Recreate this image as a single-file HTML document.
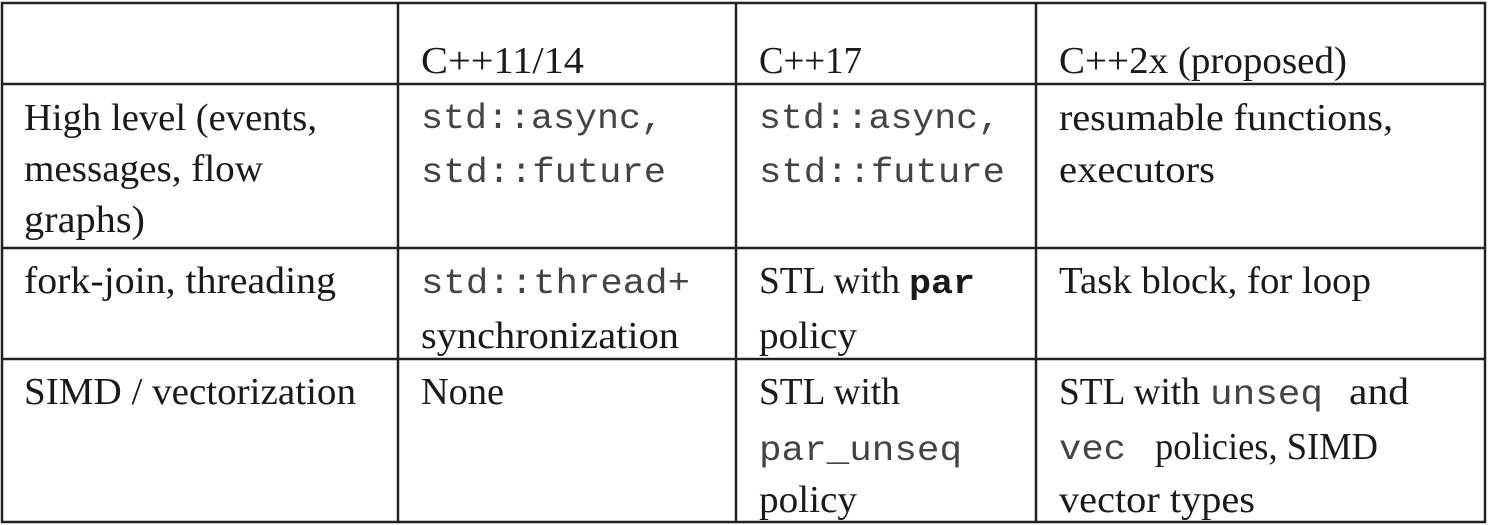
<!DOCTYPE html>
<html><head><style>
html,body{margin:0;padding:0;background:#fff;}
svg{display:block;}
.s{font-family:"Liberation Serif",serif;font-size:38px;fill:#1a1a1a;}
.m{font-family:"Liberation Mono",monospace;font-size:35px;fill:#444;}
.mb{font-family:"Liberation Mono",monospace;font-size:34px;font-weight:bold;fill:#1a1a1a;}
</style></head><body>
<svg width="1488" height="525" viewBox="0 0 1488 525" xmlns="http://www.w3.org/2000/svg">
<g stroke="#222" stroke-width="2.5" fill="none">
<rect x="2" y="3" width="1483" height="519"/>
<line x1="2" y1="84" x2="1485" y2="84"/>
<line x1="2" y1="248" x2="1485" y2="248"/>
<line x1="2" y1="359" x2="1485" y2="359"/>
<line x1="398" y1="3" x2="398" y2="522"/>
<line x1="736" y1="3" x2="736" y2="522"/>
<line x1="1036" y1="3" x2="1036" y2="522"/>
</g>
<g>
<text class="s" x="421" y="73" textLength="163" lengthAdjust="spacingAndGlyphs">C++11/14</text>
<text class="s" x="759" y="73" textLength="103" lengthAdjust="spacingAndGlyphs">C++17</text>
<text class="s" x="1059" y="73" textLength="288" lengthAdjust="spacingAndGlyphs">C++2x (proposed)</text>

<text class="s" x="24" y="130" textLength="293" lengthAdjust="spacingAndGlyphs">High level (events,</text>
<text class="s" x="24" y="181" textLength="239" lengthAdjust="spacingAndGlyphs">messages, flow</text>
<text class="s" x="24" y="232" textLength="121" lengthAdjust="spacingAndGlyphs">graphs)</text>
<text class="m" x="421" y="128" textLength="242" lengthAdjust="spacingAndGlyphs">std::async,</text>
<text class="m" x="421" y="182" textLength="245" lengthAdjust="spacingAndGlyphs">std::future</text>
<text class="m" x="759" y="128" textLength="241" lengthAdjust="spacingAndGlyphs">std::async,</text>
<text class="m" x="759" y="182" textLength="246" lengthAdjust="spacingAndGlyphs">std::future</text>
<text class="s" x="1059" y="130" textLength="334" lengthAdjust="spacingAndGlyphs">resumable functions,</text>
<text class="s" x="1059" y="182" textLength="156" lengthAdjust="spacingAndGlyphs">executors</text>

<text class="s" x="24" y="293" textLength="312" lengthAdjust="spacingAndGlyphs">fork-join, threading</text>
<text class="m" x="421" y="293" textLength="269" lengthAdjust="spacingAndGlyphs">std::thread+</text>
<text class="s" x="421" y="348" textLength="258" lengthAdjust="spacingAndGlyphs">synchronization</text>
<text class="s" x="759" y="293" textLength="141" lengthAdjust="spacingAndGlyphs">STL with</text>
<text class="mb" x="909" y="293" textLength="66" lengthAdjust="spacingAndGlyphs">par</text>
<text class="s" x="759" y="348" textLength="98" lengthAdjust="spacingAndGlyphs">policy</text>
<text class="s" x="1059" y="293" textLength="312" lengthAdjust="spacingAndGlyphs">Task block, for loop</text>

<text class="s" x="24" y="404" textLength="332" lengthAdjust="spacingAndGlyphs">SIMD / vectorization</text>
<text class="s" x="421" y="404" textLength="83" lengthAdjust="spacingAndGlyphs">None</text>
<text class="s" x="759" y="404" textLength="141" lengthAdjust="spacingAndGlyphs">STL with</text>
<text class="m" x="759" y="460" textLength="203" lengthAdjust="spacingAndGlyphs">par_unseq</text>
<text class="s" x="759" y="512" textLength="98" lengthAdjust="spacingAndGlyphs">policy</text>
<text class="s" x="1059" y="404" textLength="141" lengthAdjust="spacingAndGlyphs">STL with</text>
<text class="m" x="1210" y="404" textLength="113" lengthAdjust="spacingAndGlyphs">unseq</text>
<text class="s" x="1349" y="404" textLength="60" lengthAdjust="spacingAndGlyphs">and</text>
<text class="m" x="1059" y="459" textLength="67" lengthAdjust="spacingAndGlyphs">vec</text>
<text class="s" x="1155" y="459" textLength="223" lengthAdjust="spacingAndGlyphs">policies, SIMD</text>
<text class="s" x="1059" y="512" textLength="196" lengthAdjust="spacingAndGlyphs">vector types</text>
</g>
</svg>
</body></html>
